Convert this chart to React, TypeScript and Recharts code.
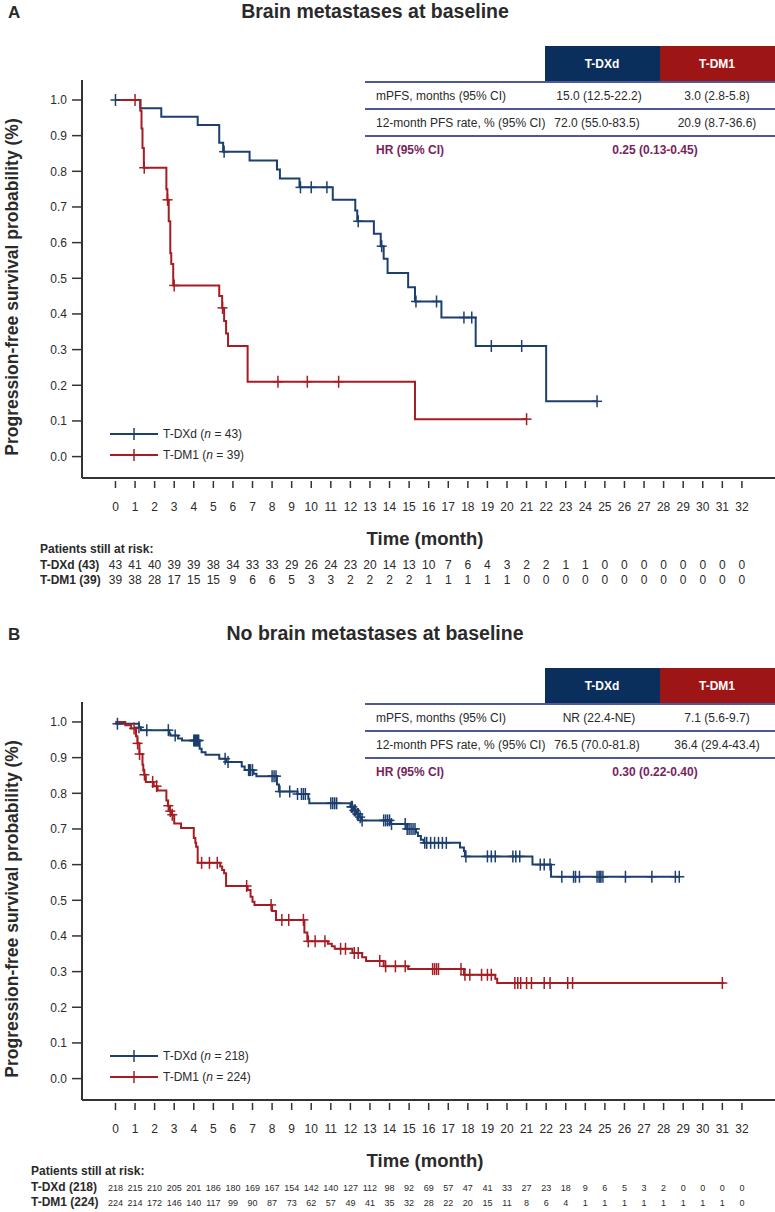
import React from "react";
import { ComposedChart, Line, Scatter, XAxis, YAxis, Legend } from "recharts";

type Step = [number, number];

const monthTicks = [0, 1, 2, 3, 4, 5, 6, 7, 8, 9, 10, 11, 12, 13, 14, 15, 16, 17, 18, 19, 20, 21, 22, 23, 24, 25, 26, 27, 28, 29, 30, 31, 32];
const probTicks = [0, 0.1, 0.2, 0.3, 0.4, 0.5, 0.6, 0.7, 0.8, 0.9, 1.0];

// Panel A: brain metastases at baseline
const aDxdSteps: Step[] = [
  [0, 1], [1.27, 0.977], [2.34, 0.953], [4.2, 0.93], [5.3, 0.88], [5.5, 0.855], [6.85, 0.83],
  [8.25, 0.805], [8.4, 0.78], [9.4, 0.755], [11.1, 0.72], [12.25, 0.69], [12.35, 0.66],
  [13.2, 0.625], [13.55, 0.59], [13.7, 0.555], [13.9, 0.515], [14.95, 0.475], [15.3, 0.435],
  [16.65, 0.39], [18.4, 0.31], [22.0, 0.155], [24.6, 0.155],
];
const aDxdCensor = [0, 5.55, 9.45, 10.0, 10.8, 12.4, 13.6, 15.35, 16.4, 17.8, 18.2, 19.2, 20.75, 24.6];
const aDm1Steps: Step[] = [
  [0, 1], [1.27, 0.97], [1.33, 0.92], [1.38, 0.865], [1.45, 0.81], [2.6, 0.75], [2.65, 0.72],
  [2.72, 0.66], [2.8, 0.57], [2.85, 0.54], [2.95, 0.48], [5.3, 0.45], [5.45, 0.417], [5.55, 0.38],
  [5.65, 0.345], [5.75, 0.31], [6.75, 0.21], [15.3, 0.105], [21.0, 0.105],
];
const aDm1Censor = [1.0, 1.47, 2.66, 3.0, 5.47, 8.3, 9.8, 11.4, 21.0];
const aRiskDxd = [43, 41, 40, 39, 39, 38, 34, 33, 33, 29, 26, 24, 23, 20, 14, 13, 10, 7, 6, 4, 3, 2, 2, 1, 1, 0, 0, 0, 0, 0, 0, 0, 0];
const aRiskDm1 = [39, 38, 28, 17, 15, 15, 9, 6, 6, 5, 3, 3, 2, 2, 2, 2, 1, 1, 1, 1, 1, 0, 0, 0, 0, 0, 0, 0, 0, 0, 0, 0, 0];

// Panel B: no brain metastases at baseline
const bDxdSteps: Step[] = [
  [0, 1], [0.05, 0.995], [1.2, 0.985], [1.3, 0.977], [2.75, 0.968], [2.8, 0.962], [3.2, 0.954],
  [3.4, 0.948], [4.3, 0.925], [4.4, 0.915], [4.6, 0.908], [5.3, 0.897], [5.65, 0.888],
  [6.45, 0.875], [6.6, 0.865], [7.05, 0.855], [7.2, 0.848], [8.25, 0.825], [8.35, 0.805],
  [9.3, 0.798], [9.85, 0.785], [9.9, 0.772], [12.0, 0.762], [12.15, 0.752], [12.3, 0.742],
  [12.45, 0.733], [12.55, 0.724], [14.05, 0.714], [14.9, 0.7], [15.35, 0.69], [15.45, 0.68],
  [15.6, 0.67], [15.75, 0.661], [17.6, 0.648], [17.8, 0.638], [17.85, 0.623], [21.3, 0.6],
  [22.25, 0.566], [28.8, 0.566],
];
const bDxdCensor = [
  0.1, 1.2, 1.6, 2.7, 3.05, 4.0, 4.05, 4.1, 4.15, 4.2, 4.25, 5.6, 5.75, 6.8, 6.85, 6.9, 7.0, 8.0,
  8.1, 8.2, 8.4, 8.9, 9.3, 9.5, 9.6, 9.7, 11.0, 11.1, 11.2, 11.3, 12.05, 12.1, 12.2, 12.25, 12.35,
  12.4, 12.5, 12.6, 13.7, 13.8, 13.9, 14.0, 14.1, 14.8, 14.9, 15.0, 15.1, 15.2, 15.3, 15.8, 15.9,
  16.1, 16.3, 16.5, 16.7, 16.9, 17.9, 19.0, 19.2, 19.4, 20.3, 20.45, 20.65, 21.7, 21.9, 22.2,
  22.8, 23.4, 23.5, 23.7, 24.6, 24.7, 24.75, 24.8, 24.9, 26.05, 27.4, 28.6, 28.8,
];
const bDm1Steps: Step[] = [
  [0, 1], [0.5, 0.991], [0.8, 0.982], [1.05, 0.96], [1.12, 0.94], [1.22, 0.91], [1.38, 0.88],
  [1.42, 0.864], [1.47, 0.852], [1.55, 0.832], [1.95, 0.82], [2.15, 0.808], [2.6, 0.78],
  [2.68, 0.765], [2.78, 0.75], [2.88, 0.74], [3.0, 0.715], [3.35, 0.703], [4.0, 0.675],
  [4.08, 0.661], [4.12, 0.65], [4.2, 0.605], [5.35, 0.595], [5.45, 0.585], [5.55, 0.576],
  [5.65, 0.54], [6.75, 0.529], [6.9, 0.51], [7.0, 0.496], [7.1, 0.487], [8.0, 0.47], [8.2, 0.445],
  [9.65, 0.41], [9.8, 0.385], [10.85, 0.378], [11.05, 0.371], [11.2, 0.364], [12.1, 0.352],
  [12.6, 0.34], [12.8, 0.33], [13.7, 0.315], [14.95, 0.307], [17.8, 0.291], [19.4, 0.28],
  [19.5, 0.268], [31.1, 0.268],
];
const bDm1Censor = [
  0.95, 1.13, 1.23, 1.48, 1.9, 2.1, 2.7, 2.8, 2.9, 4.4, 4.8, 5.2, 6.7, 7.95, 8.5, 8.85, 9.6, 9.85,
  10.2, 10.7, 11.5, 11.75, 12.2, 12.4, 13.5, 13.8, 14.3, 14.8, 16.2, 16.3, 16.4, 16.5, 17.65,
  17.85, 18.1, 18.7, 19.0, 19.2, 20.4, 20.55, 20.7, 21.0, 21.25, 21.9, 22.2, 23.1, 23.35, 31.0,
];
const bRiskDxd = [218, 215, 210, 205, 201, 186, 180, 169, 167, 154, 142, 140, 127, 112, 98, 92, 69, 57, 47, 41, 33, 27, 23, 18, 9, 6, 5, 3, 2, 0, 0, 0, 0];
const bRiskDm1 = [224, 214, 172, 146, 140, 117, 99, 90, 87, 73, 62, 57, 49, 41, 35, 32, 28, 22, 20, 15, 11, 8, 6, 4, 1, 1, 1, 1, 1, 1, 1, 1, 0];

const aTable = ["15.0 (12.5-22.2)", "3.0 (2.8-5.8)", "72.0 (55.0-83.5)", "20.9 (8.7-36.6)", "0.25 (0.13-0.45)"];
const bTable = ["NR (22.4-NE)", "7.1 (5.6-9.7)", "76.5 (70.0-81.8)", "36.4 (29.4-43.4)", "0.30 (0.22-0.40)"];

const BLUE = "#1c3f6e";
const RED = "#a51d22";
const NAVY = "#0b2f5d";
const DARKRED = "#9e1515";
const PURPLE = "#7a1f5c";
const RULE = "#4e5898";
const AXIS = "#333";
const TEXT = "#2a2a2a";

const toLine = (steps: Step[]) => steps.map(([t, s]) => ({ t, s }));
const levelAt = (steps: Step[], t: number) => {
  let s = steps[0][1];
  for (const [st, sv] of steps) if (st <= t) s = sv;
  return s;
};
const toCensor = (steps: Step[], times: number[]) => times.map((t) => ({ t, s: levelAt(steps, t) }));

const Plus = ({ cx, cy, color }: any) => (
  <g>
    <line x1={cx - 5} x2={cx + 5} y1={cy} y2={cy} stroke={color} strokeWidth={1.5} />
    <line x1={cx} x2={cx} y1={cy - 6} y2={cy + 6} stroke={color} strokeWidth={1.5} />
  </g>
);

const MonthTick = ({ x, y, payload, riskDxd, riskDm1, riskSize }: any) => {
  const i = monthTicks.indexOf(payload.value);
  return (
    <g>
      <line x1={x} x2={x} y1={y + 3} y2={y + 10} stroke={AXIS} strokeWidth={1.5} />
      <text x={x} y={y + 33} textAnchor="middle" fontSize={12} fill={TEXT}>{payload.value}</text>
      <text x={x} y={y + 91} textAnchor="middle" fontSize={riskSize} fill={TEXT}>{riskDxd[i]}</text>
      <text x={x} y={y + 106} textAnchor="middle" fontSize={riskSize} fill={TEXT}>{riskDm1[i]}</text>
    </g>
  );
};

const KMLegend = ({ nDxd, nDm1 }: any) => (
  <svg width={220} height={44}>
    {[{ c: BLUE, label: "T-DXd", n: nDxd, y: 12 }, { c: RED, label: "T-DM1", n: nDm1, y: 33 }].map((r) => (
      <g key={r.label}>
        <line x1={10} x2={58} y1={r.y} y2={r.y} stroke={r.c} strokeWidth={2} />
        <line x1={34} x2={34} y1={r.y - 6} y2={r.y + 6} stroke={r.c} strokeWidth={1.5} />
        <text x={63} y={r.y + 4} fontSize={12} fill={TEXT}>
          {r.label} (<tspan fontStyle="italic">n</tspan> = {r.n})
        </text>
      </g>
    ))}
  </svg>
);

const Panel = ({ letter, title, table, dxdSteps, dxdCensor, dm1Steps, dm1Censor, riskDxd, riskDm1, nDxd, nDm1, riskSize, labelX }: any) => (
  <div style={{ position: "relative", width: 775, height: 622 }}>
    <ComposedChart width={775} height={622} margin={{ top: 80, right: 0, bottom: 0, left: 22 }}>
      <XAxis
        type="number"
        dataKey="t"
        domain={[-1.71, 33.69]}
        ticks={monthTicks}
        interval={0}
        allowDataOverflow
        height={144}
        tickSize={0}
        tickMargin={0}
        tickLine={false}
        axisLine={{ stroke: AXIS, strokeWidth: 2 }}
        tick={(p: any) => <MonthTick {...p} riskDxd={riskDxd} riskDm1={riskDm1} riskSize={riskSize} />}
      />
      <YAxis
        type="number"
        dataKey="s"
        domain={[-0.06, 1.056]}
        ticks={probTicks}
        interval={0}
        allowDataOverflow
        width={60}
        tickSize={10}
        tickMargin={5}
        tickFormatter={(v: number) => v.toFixed(1)}
        tick={{ fontSize: 12, fill: TEXT }}
        tickLine={{ stroke: AXIS, strokeWidth: 1.5 }}
        axisLine={{ stroke: AXIS, strokeWidth: 2 }}
      />
      <Legend
        layout="horizontal"
        verticalAlign="middle"
        align="center"
        content={() => <KMLegend nDxd={nDxd} nDm1={nDm1} />}
        wrapperStyle={{ position: "absolute", left: 100, top: 422, width: 220, height: 44 }}
      />
      <Line data={toLine(dxdSteps)} dataKey="s" type="stepAfter" stroke={BLUE} strokeWidth={2} dot={false} isAnimationActive={false} />
      <Line data={toLine(dm1Steps)} dataKey="s" type="stepAfter" stroke={RED} strokeWidth={2} dot={false} isAnimationActive={false} />
      <Scatter data={toCensor(dxdSteps, dxdCensor)} dataKey="s" isAnimationActive={false} shape={(p: any) => <Plus cx={p.cx} cy={p.cy} color={BLUE} />} />
      <Scatter data={toCensor(dm1Steps, dm1Censor)} dataKey="s" isAnimationActive={false} shape={(p: any) => <Plus cx={p.cx} cy={p.cy} color={RED} />} />
    </ComposedChart>
    <svg width={775} height={622} style={{ position: "absolute", left: 0, top: 0, pointerEvents: "none" }}>
      <text x={8} y={18} fontSize={17} fontWeight="bold" fill={TEXT}>{letter}</text>
      <text x={375} y={18} fontSize={19.5} fontWeight="bold" fill={TEXT} textAnchor="middle">{title}</text>
      <rect x={545} y={46} width={115} height={36} fill={NAVY} />
      <rect x={660} y={46} width={115} height={36} fill={DARKRED} />
      <text x={602} y={68} fontSize={12} fontWeight="bold" fill="#fff" textAnchor="middle">T-DXd</text>
      <text x={717} y={68} fontSize={12} fontWeight="bold" fill="#fff" textAnchor="middle">T-DM1</text>
      <line x1={365} x2={775} y1={82} y2={82} stroke={RULE} strokeWidth={2} />
      <line x1={365} x2={775} y1={109} y2={109} stroke={RULE} strokeWidth={2} />
      <line x1={365} x2={775} y1={136} y2={136} stroke={RULE} strokeWidth={2} />
      <text x={376} y={100} fontSize={12} fill={TEXT}>mPFS, months (95% CI)</text>
      <text x={599} y={100} fontSize={12} fill={TEXT} textAnchor="middle">{table[0]}</text>
      <text x={717} y={100} fontSize={12} fill={TEXT} textAnchor="middle">{table[1]}</text>
      <text x={376} y={127} fontSize={12} fill={TEXT}>12-month PFS rate, % (95% CI)</text>
      <text x={597} y={127} fontSize={12} fill={TEXT} textAnchor="middle">{table[2]}</text>
      <text x={717} y={127} fontSize={12} fill={TEXT} textAnchor="middle">{table[3]}</text>
      <text x={376} y={154} fontSize={12} fontWeight="bold" fill={PURPLE}>HR (95% CI)</text>
      <text x={655} y={154} fontSize={12} fontWeight="bold" fill={PURPLE} textAnchor="middle">{table[4]}</text>
      <text transform="translate(18, 287) rotate(-90)" fontSize={17.5} fontWeight="bold" fill={TEXT} textAnchor="middle">
        Progression-free survival probability (%)
      </text>
      <text x={425} y={545} fontSize={18.5} fontWeight="bold" fill={TEXT} textAnchor="middle">Time (month)</text>
      <text x={labelX} y={553} fontSize={12} fontWeight="bold" fill={TEXT}>Patients still at risk:</text>
      <text x={labelX} y={569} fontSize={12} fontWeight="bold" fill={TEXT}>T-DXd ({nDxd})</text>
      <text x={labelX} y={584} fontSize={12} fontWeight="bold" fill={TEXT}>T-DM1 ({nDm1})</text>
    </svg>
  </div>
);

export default function App() {
  return (
    <div style={{ position: "absolute", left: 0, top: 0, width: 775, height: 1212, background: "#fff", fontFamily: '"Liberation Sans", Arial, sans-serif' }}>
      <Panel
        letter="A"
        title="Brain metastases at baseline"
        table={aTable}
        dxdSteps={aDxdSteps}
        dxdCensor={aDxdCensor}
        dm1Steps={aDm1Steps}
        dm1Censor={aDm1Censor}
        riskDxd={aRiskDxd}
        riskDm1={aRiskDm1}
        nDxd={43}
        nDm1={39}
        riskSize={12}
        labelX={40}
      />
      <Panel
        letter="B"
        title="No brain metastases at baseline"
        table={bTable}
        dxdSteps={bDxdSteps}
        dxdCensor={bDxdCensor}
        dm1Steps={bDm1Steps}
        dm1Censor={bDm1Censor}
        riskDxd={bRiskDxd}
        riskDm1={bRiskDm1}
        nDxd={218}
        nDm1={224}
        riskSize={9}
        labelX={31}
      />
    </div>
  );
}
